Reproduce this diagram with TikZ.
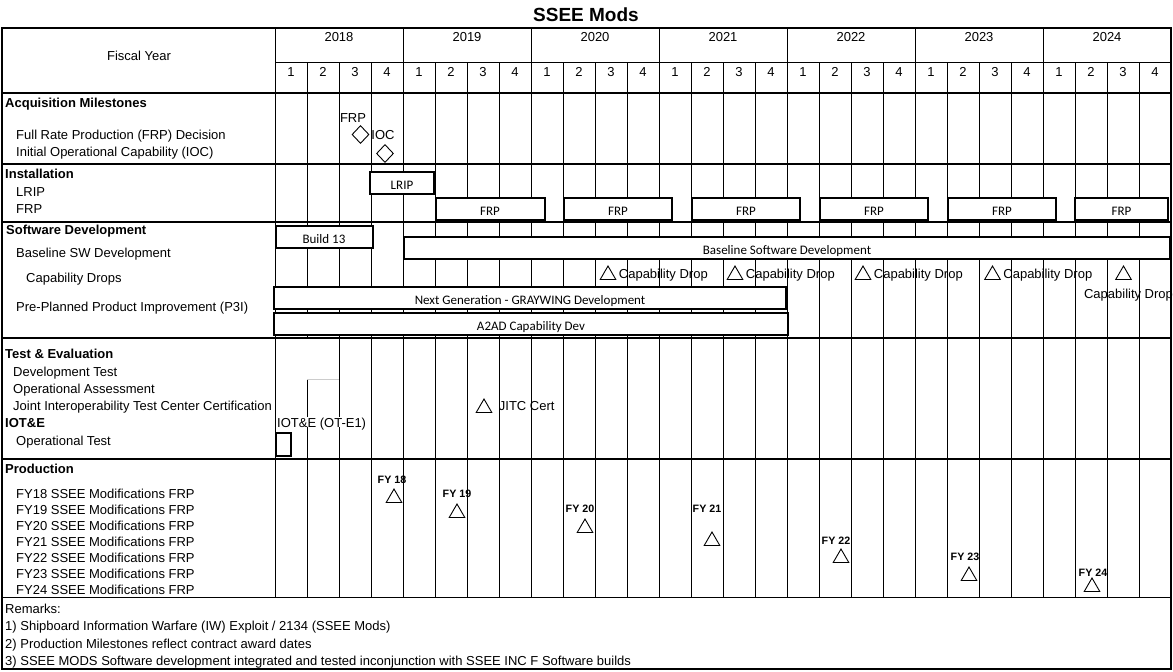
\documentclass[tikz,border=0pt]{standalone}
\usepackage{fontspec}
\setmainfont{Liberation Sans}
\newfontfamily\carlito{Carlito}
\usetikzlibrary{shapes.geometric,positioning}
\newcommand\lblfont{\fontsize{13}{15}\selectfont}
\newcommand\fyfont{\fontsize{10.7}{12}\selectfont\bfseries}

\begin{document}
\begin{tikzpicture}[x=1pt,y=-1pt,
  lbl/.style={anchor=west,inner sep=0pt,font=\lblfont,text height=10pt,text depth=0pt},
  head/.style={lbl,font=\lblfont\bfseries},
  cell/.style={inner sep=0pt,font=\lblfont,text height=10pt,text depth=0pt},
  barbox/.style={draw,line width=2pt,fill=white,inner sep=0pt,minimum height=22pt,font=\carlito\lblfont,text height=13pt,text depth=0pt},
  milestone/.style={draw,line width=0.9pt,diamond,inner sep=0pt,minimum width=17pt,minimum height=18pt},
  tri/.style={draw,line width=0.9pt,regular polygon,regular polygon sides=3,inner sep=0pt,minimum size=18pt},
  fy/.style={inner sep=0pt,font=\fyfont},
  gridline/.style={line width=0.8pt},
  sect/.style={line width=2pt}]
  \useasboundingbox (0,0) rectangle (1173,672);

  % title
  \node[font=\fontsize{19}{22}\selectfont\bfseries] (title) at (586,15) {SSEE Mods};

  % grid: quarters and years
  \foreach \q in {2,3,5,6,7,9,10,11,13,14,15,17,18,19,21,22,23,25,26,27}
    \draw[gridline] ({275+32*\q},62) -- ({275+32*\q},597);
  \draw[gridline] (307,62) -- (307,338);
  \draw[gridline] (307,379) -- (307,597);
  \draw[gray!40,line width=0.8pt] (307,379) -- (339,379);
  \foreach \yr in {0,...,6}
    \draw[gridline] ({275+128*\yr},28) -- ({275+128*\yr},597);
  \draw[gridline] (275,62) -- (1171,62);
  \draw[sect] (2,93) -- (1171,93);
  \foreach \yy in {164,222,338,459}
    \draw[sect] (2,\yy) -- (1171,\yy);
  \draw[gridline] (2,597) -- (1171,597);
  \draw[line width=2.2pt] (2,28) rectangle (1171,669);

  % header
  \node[cell] (fiscal) at (139,55) {Fiscal Year};
  \foreach \yr [count=\i from 0] in {2018,...,2024}
    \node[cell] (yr\yr) at ({339+128*\i},36) {\yr};
  \foreach \q in {0,...,27}{
    \pgfmathtruncatemacro{\qn}{mod(\q,4)+1}
    \node[cell] (q\q) at ({291+32*\q},71) {\qn};
  }

  % row labels
  \node[head] (acq) at (5,102) {Acquisition Milestones};
  \node[lbl] (frpdec) at (16,134) {Full Rate Production (FRP) Decision};
  \node[lbl] (iocrow) at (16,151) {Initial Operational Capability (IOC)};
  \node[head] (inst) at (5,173) {Installation};
  \node[lbl] (lriprow) at (16,191) {LRIP};
  \node[lbl] (frprow) at (16,208) {FRP};
  \node[head] (swdev) at (6,229) {Software Development};
  \node[lbl] (baserow) at (16,252) {Baseline SW Development};
  \node[lbl] (droprow) at (26,277) {Capability Drops};
  \node[lbl] (p3i) at (16,306) {Pre-Planned Product Improvement (P3I)};
  \node[head] (tande) at (5,353) {Test \& Evaluation};
  \node[lbl] (devtest) at (13,371) {Development Test};
  \node[lbl] (opassess) at (13,388) {Operational Assessment};
  \node[lbl] (jitcrow) at (13,405) {Joint Interoperability Test Center Certification};
  \node[head] (iote) at (5,422) {IOT\&E};
  \node[lbl] (optest) at (16,440) {Operational Test};
  \node[head] (prod) at (5,468) {Production};
  \foreach \n [count=\i from 0] in {18,...,24}
    \node[lbl] (prodrow\n) at (16,{493+16*\i}) {FY\n{} SSEE Modifications FRP};
  \node[lbl] (remarks) at (5,608) {Remarks:};
  \node[lbl] (rem1) at (5,625) {1) Shipboard Information Warfare (IW) Exploit / 2134 (SSEE Mods)};
  \node[lbl] (rem2) at (5,643) {2) Production Milestones reflect contract award dates};
  \node[lbl] (rem3) at (5,660) {3) SSEE MODS Software development integrated and tested inconjunction with SSEE INC F Software builds};

  % acquisition milestones
  \node[milestone] (frpms) at (360.5,134.5) {};
  \node[cell] (frpms lbl) at (353,117) {FRP};
  \node[milestone] (iocms) at (385,153.5) {};
  \node[cell] (iocms lbl) at (383,134) {IOC};

  % installation
  \node[barbox,minimum width=64pt] (lrip) at (402,183) {LRIP};
  \foreach \k/\xc/\w in {1/490/109,2/618/108,3/746/108,4/874/108,5/1002/108,6/1121.5/93}
    \node[barbox,minimum width=\w pt] (frp\k) at (\xc,209) {FRP};

  % software development
  \node[barbox,minimum width=97pt] (build13) at (324,237) {Build 13};
  \node[barbox,minimum width=766pt] (baseline) at (787,248) {Baseline Software Development};
  \foreach \k/\xp in {1/608,2/735,3/863,4/992.5}{
    \node[tri] (cd\k) at (\xp,275) {};
    \node[lbl,right=5pt of cd\k,yshift=2pt] (cdl\k) {Capability Drop};
  }
  \node[tri] (cd5) at (1123.5,275) {};
  \node[cell,below=8pt of cd5,xshift=5pt] (cdl5) {Capability Drop};
  \node[barbox,minimum width=512pt] (nextgen) at (530,298) {Next Generation - GRAYWING Development};
  \node[barbox,minimum width=514pt] (a2ad) at (531,324) {A2AD Capability Dev};

  % test and evaluation
  \node[tri] (jitc) at (484,408) {};
  \node[lbl,right=9pt of jitc,yshift=3pt] (jitcl) {JITC Cert};
  \node[lbl,fill=white,inner xsep=1pt] (iotel) at (276,422) {IOT\&E (OT-E1)};
  \node[draw,line width=2pt,inner sep=0pt,minimum width=15pt,minimum height=23pt] (otbox) at (283,444.5) {};

  % production milestones
  \foreach \n/\xp/\yp/\xl/\yl in {18/394/496/392/480,19/457/511/457/494,20/585/526/580/509,
                                  21/712/539/707/509,22/841/556/836/541,23/969/574/965/557,24/1092/585/1093/573}{
    \node[tri] (fy\n) at (\xp,\yp+2) {};
    \node[fy] (fyl\n) at (\xl,\yl) {FY \n};
  }
\end{tikzpicture}
\end{document}
